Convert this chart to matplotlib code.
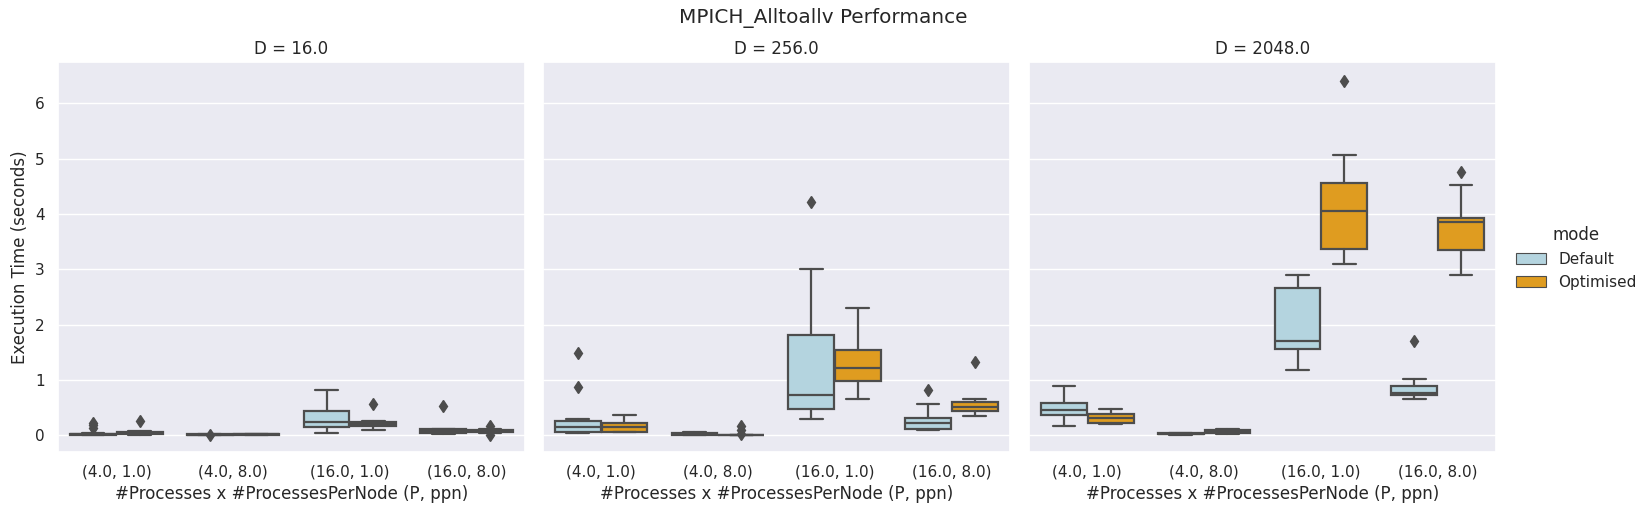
import colorsys
import matplotlib
matplotlib.use("Agg")
import matplotlib.pyplot as plt
import matplotlib.colors as mcolors
from matplotlib.patches import Patch
import seaborn as sns

sns.set_theme(style="darkgrid", font_scale=1.0)
plt.rcParams['font.family'] = ['DejaVu Sans']

# ---------------- data ----------------
D_values = [16.0, 256.0, 2048.0]
categories = ["(4.0, 1.0)", "(4.0, 8.0)", "(16.0, 1.0)", "(16.0, 8.0)"]
modes = ["Default", "Optimised"]

# rows: D = 16, 256, 2048 ; columns: categories
default_whislo = [[0.005, 0.004, 0.047, 0.025],
                  [0.05, 0.005, 0.295, 0.10],
                  [0.174, 0.01, 1.18, 0.656]]
default_q1 = [[0.01, 0.008, 0.145, 0.045],
              [0.06, 0.01, 0.476, 0.108],
              [0.367, 0.02, 1.56, 0.73]]
default_med = [[0.02, 0.011, 0.235, 0.07],
               [0.15, 0.025, 0.73, 0.228],
               [0.457, 0.03, 1.705, 0.76]]
default_q3 = [[0.03, 0.015, 0.43, 0.105],
              [0.265, 0.045, 1.81, 0.318],
              [0.578, 0.04, 2.66, 0.90]]
default_whishi = [[0.045, 0.02, 0.82, 0.12],
                  [0.29, 0.065, 3.01, 0.57],
                  [0.89, 0.045, 2.90, 1.02]]
default_fliers = [[[0.13, 0.18, 0.23], [0.0], [], [0.535]],
                  [[0.88, 1.48], [], [4.22], [0.81]],
                  [[], [], [], [1.71]]]

optimised_whislo = [[0.01, 0.01, 0.096, 0.04],
                    [0.06, 0.001, 0.656, 0.355],
                    [0.20, 0.03, 3.10, 2.90]]
optimised_q1 = [[0.025, 0.014, 0.16, 0.06],
                [0.065, 0.004, 0.98, 0.43],
                [0.217, 0.05, 3.37, 3.35]]
optimised_med = [[0.04, 0.017, 0.21, 0.08],
                 [0.155, 0.006, 1.217, 0.52],
                 [0.307, 0.08, 4.06, 3.85]]
optimised_q3 = [[0.06, 0.021, 0.245, 0.10],
                [0.22, 0.009, 1.54, 0.60],
                [0.38, 0.10, 4.57, 3.92]]
optimised_whishi = [[0.075, 0.026, 0.265, 0.115],
                    [0.37, 0.012, 2.31, 0.656],
                    [0.475, 0.12, 5.07, 4.53]]
optimised_fliers = [[[0.26], [], [0.56], [0.005, 0.17]],
                    [[], [0.03, 0.10, 0.16], [], [1.32]],
                    [[], [], [6.41], [4.76]]]


def desaturate(color, prop):
    r, g, b = mcolors.to_rgb(color)
    h, l, s = colorsys.rgb_to_hls(r, g, b)
    return colorsys.hls_to_rgb(h, l, s * prop)


colors = [desaturate("lightblue", 0.75), desaturate("orange", 0.75)]
line_color = "#4d4d4d"
lw = 1.6

fig = plt.figure(figsize=(16.47, 5.15), dpi=100)
W, H = 1647.0, 515.0
lefts = [58, 542.7, 1029]
pw = 467
bottom_px, top_px = 451.7, 62

stats_sets = [
    (default_whislo, default_q1, default_med, default_q3, default_whishi, default_fliers),
    (optimised_whislo, optimised_q1, optimised_med, optimised_q3, optimised_whishi, optimised_fliers),
]

axes = []
for di, D in enumerate(D_values):
    ax = fig.add_axes([lefts[di] / W, 1 - bottom_px / H, pw / W, (bottom_px - top_px) / H],
                      sharey=axes[0] if axes else None)
    axes.append(ax)
    for mi, mode in enumerate(modes):
        wl, q1, md, q3, wh, fl = stats_sets[mi]
        stats = []
        for ci in range(len(categories)):
            stats.append(dict(whislo=wl[di][ci], q1=q1[di][ci], med=md[di][ci],
                              q3=q3[di][ci], whishi=wh[di][ci], fliers=fl[di][ci]))
        positions = [ci + (-0.2 if mi == 0 else 0.2) for ci in range(len(categories))]
        ax.bxp(stats, positions=positions, widths=0.4 * 0.98, patch_artist=True,
               showfliers=True, manage_ticks=False,
               boxprops=dict(facecolor=colors[mi], edgecolor=line_color, linewidth=lw),
               medianprops=dict(color=line_color, linewidth=lw),
               whiskerprops=dict(color=line_color, linewidth=lw),
               capprops=dict(color=line_color, linewidth=lw),
               flierprops=dict(marker="d", markersize=6, markerfacecolor=line_color,
                               markeredgecolor=line_color, linestyle="none"))
    ax.set_xlim(-0.5, 3.5)
    ax.set_xticks(range(len(categories)))
    ax.set_xticklabels(categories)
    ax.grid(False, axis="x")
    ax.set_xlabel("#Processes x #ProcessesPerNode (P, ppn)")
    ax.set_title(f"D = {D}")
    if di == 0:
        ax.set_ylabel("Execution Time (seconds)")
    else:
        ax.tick_params(axis="y", labelleft=False)

axes[0].set_ylim(-0.297, 6.75)
axes[0].set_yticks([0, 1, 2, 3, 4, 5, 6])

handles = [Patch(facecolor=colors[i], edgecolor=line_color, linewidth=0.8, label=modes[i])
           for i in range(2)]
fig.legend(handles=handles, title="mode", loc="center left",
           bbox_to_anchor=(1502 / W, 1 - 258 / H), frameon=False)

fig.suptitle("MPICH_Alltoallv Performance", fontsize=14.4, y=1 - 18 / H, va="center")

fig.savefig("out.png", dpi=100)
